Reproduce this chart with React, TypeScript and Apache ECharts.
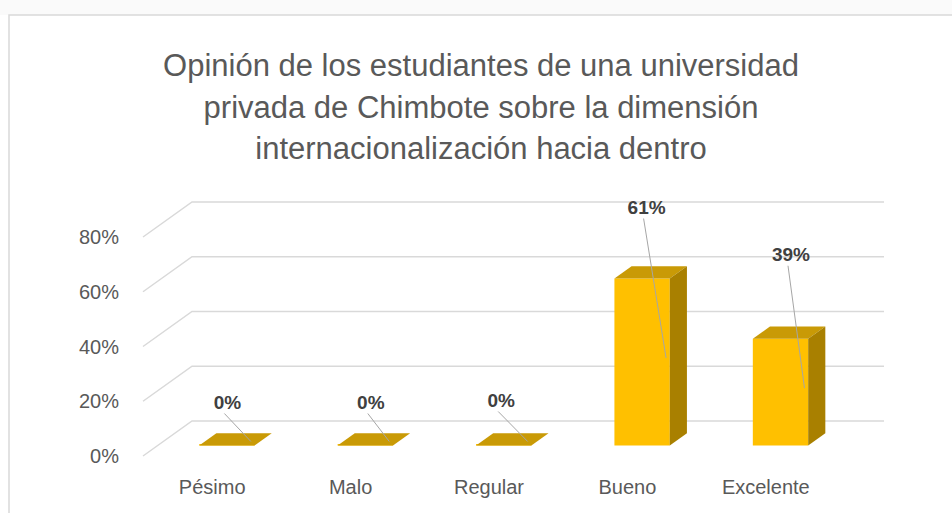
import React, { useEffect, useRef } from "react";
import * as echarts from "echarts";

const titleLines = [
  "Opinión de los estudiantes de una universidad",
  "privada de Chimbote sobre la dimensión",
  "internacionalización hacia dentro",
];
const categories = ["Pésimo", "Malo", "Regular", "Bueno", "Excelente"];
const values = [0, 0, 0, 0.61, 0.39];
const yTicks = [0, 0.2, 0.4, 0.6, 0.8];
// manual data-label placement (relative to bar front-top centre), like the original
const labelShift = [
  [0.5, -43],
  [5.5, -43],
  [-2.5, -45],
  [4.5, -71],
  [10.5, -84],
];

const DX = 49;
const DY = -35;
const Z0 = 0.3;
const Z1 = 0.65;
const FONT = "'Liberation Sans', Arial, sans-serif";

export default function App() {
  const ref = useRef<HTMLDivElement>(null);
  useEffect(() => {
    if (!ref.current) return;
    const chart = echarts.init(ref.current, null, { renderer: "svg" });
    const option: any = {
      animation: false,
      backgroundColor: "#ffffff",
      graphic: [
        { type: "rect", z: -10, shape: { x: 0, y: 0, width: 952, height: 15 }, style: { fill: "#FAFAFA" }, silent: true },
        {
          type: "rect",
          z: -9,
          shape: { x: 9, y: 15, width: 960, height: 520 },
          style: { fill: "#ffffff", stroke: "#D9D9D9", lineWidth: 1.5 },
          silent: true,
        },
        {
          type: "text",
          x: 481,
          y: 45,
          style: {
            text: titleLines.join("\n"),
            fill: "#595959",
            font: `31px ${FONT}`,
            fontSize: 31,
            fontFamily: FONT,
            lineHeight: 41.5,
            textAlign: "center",
            textVerticalAlign: "top",
          },
        },
      ],
      grid: { left: 143, right: 117, top: 237, bottom: 57, containLabel: false },
      xAxis: {
        type: "category",
        data: categories,
        axisLine: { show: false },
        axisTick: { show: false },
        splitLine: { show: false },
        axisLabel: { color: "#595959", fontSize: 20, fontFamily: FONT, margin: 21 },
      },
      yAxis: {
        type: "value",
        min: 0,
        max: 0.8,
        interval: 0.2,
        axisLine: { show: false },
        axisTick: { show: false },
        splitLine: { show: false },
        axisLabel: {
          color: "#595959",
          fontSize: 20,
          fontFamily: FONT,
          margin: 24,
          padding: [6, 0, 0, 0],
          formatter: (v: number) => `${Math.round(v * 100)}%`,
        },
      },
      series: [
        {
          type: "custom",
          clip: false,
          silent: true,
          data: yTicks.map((t) => [0, t]),
          encode: { x: 0, y: 1 },
          renderItem: (params: any, api: any) => {
            const v = api.value(1);
            const y = api.coord([0, v])[1];
            const cs = params.coordSys;
            return {
              type: "polyline",
              shape: {
                points: [
                  [cs.x, y],
                  [cs.x + DX, y + DY],
                  [cs.x + cs.width + DX, y + DY],
                ],
              },
              style: { stroke: "#D9D9D9", lineWidth: 1.5, fill: "none" },
            };
          },
        },
        {
          type: "custom",
          clip: false,
          silent: true,
          data: values.map((v, i) => [i, v]),
          encode: { x: 0, y: 1 },
          renderItem: (params: any, api: any) => {
            const i = api.value(0);
            const v = api.value(1);
            const base = api.coord([i, 0]);
            const top = api.coord([i, v]);
            const bw = api.size([1, 0])[0] * 0.4;
            const fx = base[0] + DX * Z0;
            const fy0 = base[1] + DY * Z0;
            const fy1 = top[1] + DY * Z0;
            const ddx = DX * (Z1 - Z0);
            const ddy = DY * (Z1 - Z0);
            const l = fx - bw / 2;
            const r = fx + bw / 2;
            const h = Math.max(1.5, fy0 - fy1);
            const sh = labelShift[i] || [0, -45];
            const lx = fx + sh[0];
            const ly = fy1 + sh[1];
            const midY = (fy0 + fy1) / 2;
            return {
              type: "group",
              children: [
                {
                  type: "rect",
                  shape: { x: l, y: fy0 - h, width: bw, height: h },
                  style: { fill: "#FFC000" },
                },
                {
                  type: "polygon",
                  shape: {
                    points: [
                      [l, fy1],
                      [r, fy1],
                      [r + ddx, fy1 + ddy],
                      [l + ddx, fy1 + ddy],
                    ],
                  },
                  style: { fill: "#C99A06" },
                },
                {
                  type: "polygon",
                  shape: {
                    points: [
                      [r, fy1],
                      [r + ddx, fy1 + ddy],
                      [r + ddx, fy0 + ddy],
                      [r, fy0],
                    ],
                  },
                  style: { fill: "#A98000" },
                },
                {
                  type: "line",
                  shape: { x1: lx - 3, y1: ly + 11, x2: fx + 24, y2: midY - 4 },
                  style: { stroke: "#A6A6A6", lineWidth: 1 },
                },
                {
                  type: "text",
                  x: lx,
                  y: ly,
                  style: {
                    text: `${Math.round(v * 100)}%`,
                    fill: "#404040",
                    fontSize: 19,
                    fontWeight: "bold",
                    fontFamily: FONT,
                    textAlign: "center",
                    textVerticalAlign: "middle",
                  },
                },
              ],
            };
          },
        },
      ],
    };
    chart.setOption(option);
    return () => chart.dispose();
  }, []);
  return (
    <div
      ref={ref}
      style={{ position: "fixed", left: 0, top: 0, width: 952, height: 513 }}
    />
  );
}
